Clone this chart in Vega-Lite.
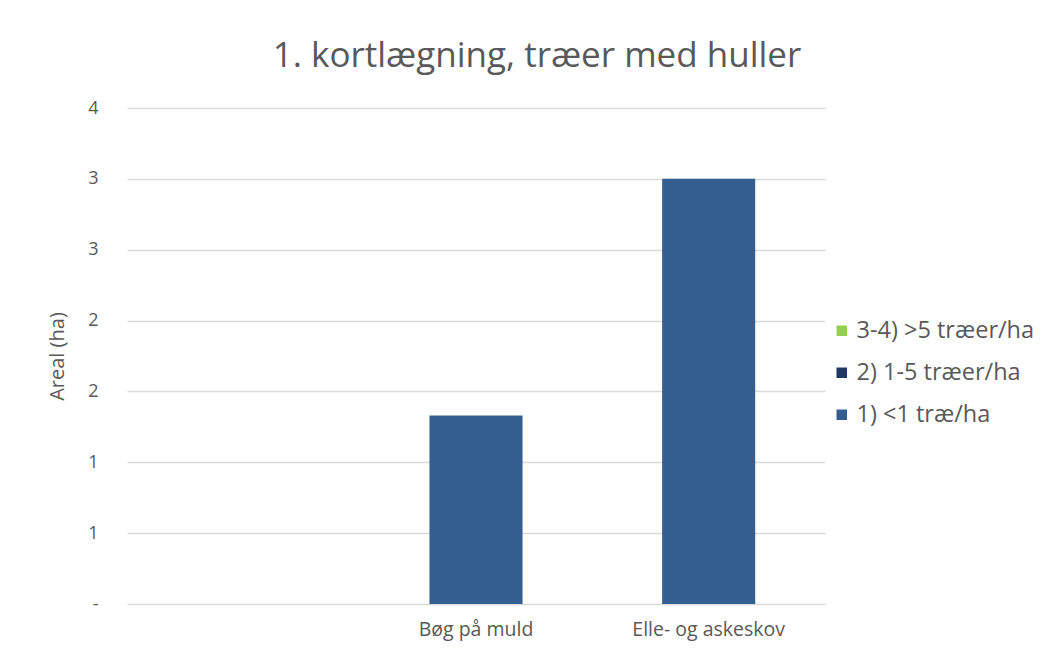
{
  "$schema": "https://vega.github.io/schema/vega-lite/v6.json",
  "width": 698,
  "height": 496,
  "autosize": {"type": "none"},
  "padding": {"left": 127, "top": 108, "right": 225, "bottom": 51},
  "background": "white",
  "config": {
    "view": {"stroke": null},
    "font": "Open Sans"
  },
  "title": {
    "text": "1. kortlægning, træer med huller",
    "font": "Open Sans",
    "fontSize": 35,
    "fontWeight": "normal",
    "color": "#595959",
    "anchor": "middle",
    "frame": "group",
    "dx": 61,
    "offset": 25
  },
  "data": {
    "values": [
      {"kategori": " ", "klasse": "1) <1 træ/ha", "areal": 0},
      {"kategori": "Bøg på muld", "klasse": "1) <1 træ/ha", "areal": 1.33},
      {"kategori": "Bøg på muld", "klasse": "2) 1-5 træer/ha", "areal": 0},
      {"kategori": "Bøg på muld", "klasse": "3-4) >5 træer/ha", "areal": 0},
      {"kategori": "Elle- og askeskov", "klasse": "1) <1 træ/ha", "areal": 3.0},
      {"kategori": "Elle- og askeskov", "klasse": "2) 1-5 træer/ha", "areal": 0},
      {"kategori": "Elle- og askeskov", "klasse": "3-4) >5 træer/ha", "areal": 0}
    ]
  },
  "mark": {"type": "bar"},
  "encoding": {
    "x": {
      "field": "kategori",
      "type": "nominal",
      "sort": [" ", "Bøg på muld", "Elle- og askeskov"],
      "scale": {"paddingInner": 0.6, "paddingOuter": 0.3},
      "axis": {
        "title": null,
        "labelAngle": 0,
        "labelFontSize": 19.5,
        "labelColor": "#595959",
        "labelPadding": 16,
        "ticks": false,
        "domain": false
      }
    },
    "y": {
      "field": "areal",
      "type": "quantitative",
      "stack": "zero",
      "scale": {"domain": [0, 3.5], "nice": false},
      "axis": {
        "title": "Areal (ha)",
        "titleFontSize": 20,
        "titleFontWeight": "normal",
        "titleColor": "#595959",
        "titlePadding": 20,
        "values": [0, 0.5, 1, 1.5, 2, 2.5, 3, 3.5],
        "labelExpr": "datum.value == 0 ? '-' : toString(ceil(datum.value))",
        "labelFontSize": 18,
        "labelColor": "#595959",
        "labelPadding": 29,
        "ticks": false,
        "domain": false,
        "grid": true,
        "gridColor": "#d9d9d9",
        "gridWidth": 1.5
      }
    },
    "color": {
      "field": "klasse",
      "type": "nominal",
      "scale": {
        "domain": ["3-4) >5 træer/ha", "2) 1-5 træer/ha", "1) <1 træ/ha"],
        "range": ["#92d050", "#1f3864", "#345e8f"]
      },
      "legend": {
        "title": null,
        "orient": "none",
        "legendX": 703,
        "legendY": 211,
        "symbolType": "square",
        "symbolSize": 110,
        "symbolStrokeWidth": 0,
        "labelFontSize": 23.5,
        "labelColor": "#595959",
        "labelOffset": 3,
        "rowPadding": 17,
        "labelLimit": 300
      }
    },
    "order": {"field": "klasse", "sort": "ascending"}
  }
}
